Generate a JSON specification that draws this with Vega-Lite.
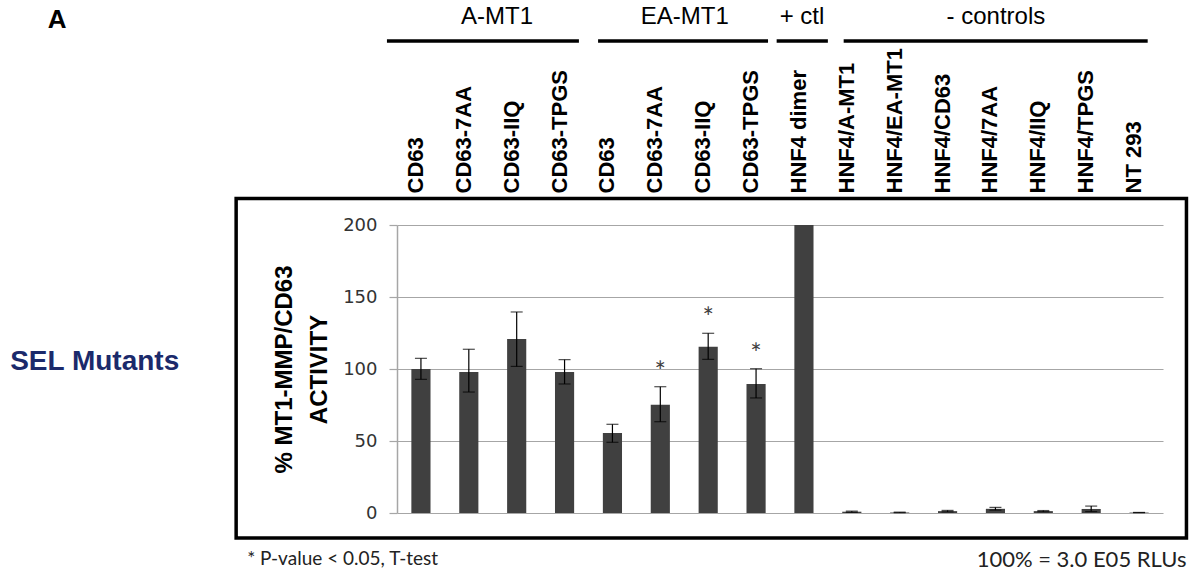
{
  "$schema": "https://vega.github.io/schema/vega-lite/v6.json",
  "width": 766,
  "height": 288,
  "autosize": "none",
  "padding": {"left": 397, "top": 225, "right": 30, "bottom": 62},
  "background": "white",
  "config": {"view": {"stroke": null}},
  "layer": [
    {
      "data": {"values": [
        {"cat": "a:CD63", "value": 100, "lo": 92.8, "hi": 107.4, "sig": false},
        {"cat": "a:CD63-7AA", "value": 98, "lo": 84, "hi": 113.7, "sig": false},
        {"cat": "a:CD63-IIQ", "value": 120.8, "lo": 101.8, "hi": 139.6, "sig": false},
        {"cat": "a:CD63-TPGS", "value": 98, "lo": 89.6, "hi": 106.5, "sig": false},
        {"cat": "e:CD63", "value": 55.5, "lo": 49.1, "hi": 61.6, "sig": false},
        {"cat": "e:CD63-7AA", "value": 75.2, "lo": 63.4, "hi": 87.7, "sig": true},
        {"cat": "e:CD63-IIQ", "value": 115.5, "lo": 106.7, "hi": 124.8, "sig": true},
        {"cat": "e:CD63-TPGS", "value": 89.6, "lo": 79.9, "hi": 100.2, "sig": true},
        {"cat": "p:HNF4 dimer", "value": 200, "lo": null, "hi": null, "sig": false},
        {"cat": "n:HNF4/A-MT1", "value": 0.9, "lo": 0.5, "hi": 1.3, "sig": false},
        {"cat": "n:HNF4/EA-MT1", "value": 0.4, "lo": 0.2, "hi": 0.6, "sig": false},
        {"cat": "n:HNF4/CD63", "value": 1.3, "lo": 0.8, "hi": 1.8, "sig": false},
        {"cat": "n:HNF4/7AA", "value": 2.9, "lo": 2.0, "hi": 3.9, "sig": false},
        {"cat": "n:HNF4/IIQ", "value": 1.3, "lo": 0.9, "hi": 1.7, "sig": false},
        {"cat": "n:HNF4/TPGS", "value": 2.8, "lo": 1.0, "hi": 4.8, "sig": false},
        {"cat": "n:NT 293", "value": 0.3, "lo": 0.2, "hi": 0.4, "sig": false}
      ]},
      "encoding": {
        "x": {
          "field": "cat", "type": "nominal", "sort": null,
          "scale": {"paddingInner": 0, "paddingOuter": 0},
          "axis": {
            "orient": "top", "labelAngle": -90, "ticks": false, "domain": false, "grid": false,
            "labelPadding": 32, "labelOffset": -5, "labelLimit": 400,
            "labelExpr": "substring(datum.label, 2)",
            "labelFont": "Liberation Sans", "labelFontWeight": "bold", "labelFontSize": 22,
            "labelColor": "black", "title": null
          }
        }
      },
      "layer": [
        {
          "mark": {"type": "bar", "color": "#404040", "width": {"band": 0.4}},
          "encoding": {
            "y": {
              "field": "value", "type": "quantitative",
              "scale": {"domain": [0, 200], "nice": false},
              "axis": {
                "orient": "left", "values": [0, 50, 100, 150, 200],
                "grid": true, "gridColor": "#a6a6a6", "gridWidth": 1.2,
                "domain": true, "domainColor": "#a6a6a6", "domainWidth": 1.5,
                "tickSize": 8, "tickColor": "#a6a6a6", "tickWidth": 1.2,
                "labelFont": "DejaVu Sans", "labelFontSize": 18, "labelColor": "#333333", "labelPadding": 12,
                "title": ["% MT1-MMP/CD63", "ACTIVITY"],
                "titleFont": "Liberation Sans", "titleFontSize": 24, "titleFontWeight": "bold",
                "titleColor": "black", "titleLineHeight": 35, "titlePadding": 11
              }
            }
          }
        },
        {
          "transform": [{"filter": "isValid(datum.lo)"}],
          "mark": {
            "type": "errorbar",
            "ticks": {"size": 12, "thickness": 1.2, "color": "black"},
            "rule": {"strokeWidth": 1.2, "color": "black"}
          },
          "encoding": {
            "y": {"field": "lo", "type": "quantitative", "scale": {"domain": [0, 200], "nice": false}, "title": ["% MT1-MMP/CD63", "ACTIVITY"]},
            "y2": {"field": "hi"}
          }
        },
        {
          "transform": [{"filter": "datum.sig"}],
          "mark": {"type": "text", "text": "*", "font": "Lato", "fontSize": 27, "color": "#404040", "baseline": "alphabetic", "dy": -6},
          "encoding": {
            "y": {"field": "hi", "type": "quantitative", "scale": {"domain": [0, 200], "nice": false}, "title": ["% MT1-MMP/CD63", "ACTIVITY"]}
          }
        }
      ]
    },
    {
      "data": {"values": [
        {"group": "A-MT1", "start": -0.71, "end": 3.30, "mid": 1.59},
        {"group": "EA-MT1", "start": 3.70, "end": 7.25, "mid": 5.51},
        {"group": "+ ctl", "start": 7.43, "end": 8.50, "mid": 7.96},
        {"group": "- controls", "start": 8.83, "end": 15.18, "mid": 12.01}
      ]},
      "layer": [
        {
          "mark": {"type": "rule", "color": "black", "strokeWidth": 3.5},
          "encoding": {
            "x": {"field": "start", "type": "quantitative", "scale": {"domain": [-0.5, 15.5], "nice": false}, "axis": null},
            "x2": {"field": "end"},
            "y": {"datum": 327.8, "type": "quantitative", "scale": {"domain": [0, 200], "nice": false}, "axis": null}
          }
        },
        {
          "mark": {"type": "text", "font": "Liberation Sans", "fontSize": 24, "color": "black", "baseline": "middle", "align": "center"},
          "encoding": {
            "text": {"field": "group"},
            "x": {"field": "mid", "type": "quantitative", "scale": {"domain": [-0.5, 15.5], "nice": false}, "axis": null},
            "y": {"datum": 344.1, "type": "quantitative", "scale": {"domain": [0, 200], "nice": false}, "axis": null}
          }
        }
      ]
    },
    {
      "data": {"values": [{"t": "frame"}]},
      "mark": {"type": "rect", "fillOpacity": 0, "stroke": "black", "strokeWidth": 3.5},
      "encoding": {
        "x": {"datum": -3.86, "type": "quantitative", "scale": {"domain": [-0.5, 15.5], "nice": false}, "axis": null},
        "x2": {"datum": 15.99},
        "y": {"datum": 218.4, "type": "quantitative", "scale": {"domain": [0, 200], "nice": false}, "axis": null},
        "y2": {"datum": -17.4}
      }
    },
    {
      "data": {"values": [{"t": "A"}]},
      "mark": {"type": "text", "font": "Liberation Sans", "fontWeight": "bold", "fontSize": 26, "color": "black", "align": "center", "baseline": "middle"},
      "encoding": {
        "text": {"field": "t"},
        "x": {"datum": -7.6, "type": "quantitative", "scale": {"domain": [-0.5, 15.5], "nice": false}, "axis": null},
        "y": {"datum": 342.4, "type": "quantitative", "scale": {"domain": [0, 200], "nice": false}, "axis": null}
      }
    },
    {
      "data": {"values": [{"t": "SEL Mutants"}]},
      "mark": {"type": "text", "font": "Liberation Sans", "fontWeight": "bold", "fontSize": 28, "color": "#1b2a6b", "align": "left", "baseline": "middle"},
      "encoding": {
        "text": {"field": "t"},
        "x": {"datum": -8.58, "type": "quantitative", "scale": {"domain": [-0.5, 15.5], "nice": false}, "axis": null},
        "y": {"datum": 105.2, "type": "quantitative", "scale": {"domain": [0, 200], "nice": false}, "axis": null}
      }
    },
    {
      "data": {"values": [{"t": "* P-value < 0.05, T-test"}]},
      "mark": {"type": "text", "font": "Lato", "fontSize": 19, "color": "#222222", "align": "left", "baseline": "middle"},
      "encoding": {
        "text": {"field": "t"},
        "x": {"datum": -3.63, "type": "quantitative", "scale": {"domain": [-0.5, 15.5], "nice": false}, "axis": null},
        "y": {"datum": -31.9, "type": "quantitative", "scale": {"domain": [0, 200], "nice": false}, "axis": null}
      }
    },
    {
      "data": {"values": [{"t": "100% = 3.0 E05 RLUs"}]},
      "mark": {"type": "text", "font": "Lato", "fontSize": 22, "color": "#222222", "align": "right", "baseline": "middle"},
      "encoding": {
        "text": {"field": "t"},
        "x": {"datum": 15.99, "type": "quantitative", "scale": {"domain": [-0.5, 15.5], "nice": false}, "axis": null},
        "y": {"datum": -32.6, "type": "quantitative", "scale": {"domain": [0, 200], "nice": false}, "axis": null}
      }
    }
  ],
  "resolve": {
    "scale": {"x": "independent", "y": "independent"},
    "axis": {"x": "independent", "y": "independent"}
  }
}
